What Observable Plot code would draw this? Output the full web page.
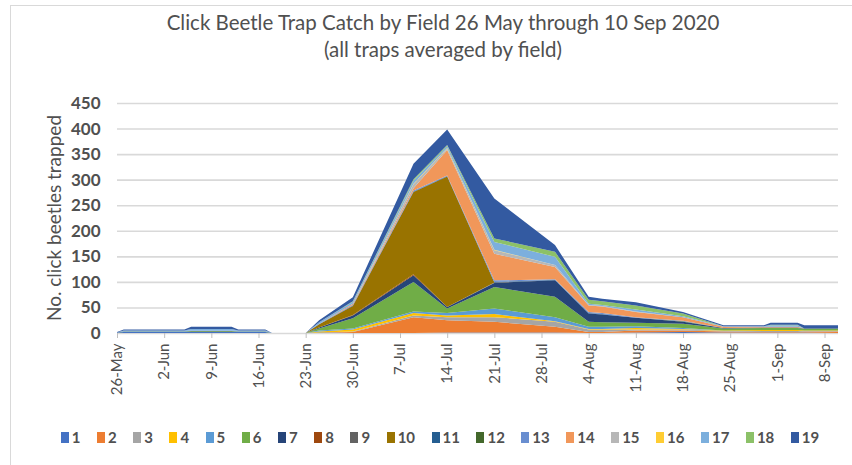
<!DOCTYPE html>
<html>
<head>
<meta charset="utf-8">
<script src="https://cdn.jsdelivr.net/npm/d3@7"></script>
<script src="https://cdn.jsdelivr.net/npm/@observablehq/plot@0.6"></script>
<style>
  html, body { margin: 0; padding: 0; background: #fff; }
  #wrap { position: relative; width: 852px; height: 465px; overflow: hidden; font-family: Lato, "Open Sans", sans-serif; color: #505050; }
  #frame { position: absolute; left: 10px; top: 5px; width: 860px; height: 470px; border-left: 1px solid #d9d9d9; border-top: 1px solid #d9d9d9; }
  #title { position: absolute; left: 0; width: 886px; top: 10px; text-align: center; font-size: 20.5px; line-height: 24px; }
  #subtitle { position: absolute; left: 0; width: 886px; top: 37px; text-align: center; font-size: 20.5px; line-height: 24px; }
  #ylabel { position: absolute; left: 53px; top: 218px; transform: translate(-50%, -50%) rotate(-90deg); white-space: nowrap; font-size: 19px; }
  #chart { position: absolute; left: 0; top: 70px; }
  #legend { position: absolute; left: 0; width: 880px; top: 428px; display: flex; justify-content: center; gap: 16.5px; font-size: 15px; font-weight: bold; }
  .item { display: flex; align-items: center; gap: 3px; }
  .sw { width: 8px; height: 11px; display: inline-block; }
</style>
</head>
<body>
<div id="wrap">
  <div id="frame"></div>
  <div id="title">Click Beetle Trap Catch by Field 26 May through 10 Sep 2020</div>
  <div id="subtitle">(all traps averaged by field)</div>
  <div id="ylabel">No. click beetles trapped</div>
  <div id="chart"></div>
  <div id="legend"></div>
</div>
<script>
const dates = ["2020-05-26","2020-05-27","2020-06-05","2020-06-06","2020-06-12","2020-06-13","2020-06-17","2020-06-18","2020-06-23","2020-06-25","2020-06-30","2020-07-09","2020-07-14","2020-07-21","2020-07-30","2020-08-04","2020-08-06","2020-08-11","2020-08-18","2020-08-24","2020-08-30","2020-08-31","2020-09-04","2020-09-05","2020-09-10"];

const field1  = [1,2,2,2,2,2,2,0,0,1,0,0,1,1,1,0,0,1,2,1,1,1,1,1,0];
const field2  = [0,0,0,0,0,0,0,0,0,0,2,31,24,21,11,2,2,4,3,2,1,1,1,2,3];
const field3  = [0,0,0,0,0,0,0,0,0,0,1,3,6,9,10,5,5,2,2,1,2,2,2,1,1];
const field4  = [0,0,0,0,0,0,0,0,0,2,4,5,3,6,1,1,1,3,1,1,2,2,2,1,1];
const field5  = [0,0,0,0,0,0,0,0,0,2,2,3,5,11,8,4,4,3,2,0,0,0,0,0,0];
const field6  = [0,1,1,1,1,1,1,0,0,4,20,58,9,42,40,10,9,7,8,4,4,4,4,3,3];
const field7  = [0,0,0,0,0,0,0,0,0,2,5,13,3,8,32,16,15,10,4,1,1,1,1,0,0];
const field8  = [0,0,0,0,0,0,0,0,0,0,1,2,0,0,0,0,0,0,0,0,0,0,0,0,0];
const field9  = [0,0,0,0,0,0,0,0,0,0,0,0,0,1,0,0,0,0,0,0,0,0,0,0,0];
const field10 = [0,0,0,0,0,0,0,0,0,6,18,161,255,0,0,0,0,0,0,0,0,0,0,0,0];
const field11 = [0,0,0,0,0,0,0,0,0,0,1,1,1,1,1,1,1,0,0,0,0,0,0,0,0];
const field12 = [0,0,0,1,1,0,0,0,0,0,0,0,0,0,0,0,0,0,1,0,0,0,0,1,1];
const field13 = [0,1,1,1,1,1,1,0,0,1,1,2,1,3,1,2,2,1,1,0,0,0,0,0,0];
const field14 = [0,0,0,0,0,0,0,0,0,0,2,4,50,52,24,13,13,10,7,2,1,1,1,0,0];
const field15 = [0,0,0,0,0,0,0,0,0,0,0,8,3,7,4,1,1,1,0,0,0,0,0,0,0];
const field16 = [0,0,0,0,0,0,0,0,0,0,0,1,1,1,0,0,0,0,0,0,0,0,0,0,0];
const field17 = [0,1,1,3,3,1,1,0,0,3,4,6,4,15,16,2,2,4,2,1,1,3,3,0,0];
const field18 = [0,0,0,0,0,0,0,0,0,0,1,3,2,7,10,8,7,8,5,0,0,1,1,0,0];
const field19 = [1,2,2,4,4,2,2,0,0,4,8,30,30,78,13,6,5,6,3,2,2,4,4,6,6];

const fieldNames = ["1","2","3","4","5","6","7","8","9","10","11","12","13","14","15","16","17","18","19"];
const fieldColors = ["#4472C4","#ED7D31","#A5A5A5","#FFC000","#5B9BD5","#70AD47","#264478","#9E480E","#636363","#997300","#255E91","#43682B","#698ED0","#F1975A","#B7B7B7","#FFCD33","#7CAFDD","#8CC168","#335AA1"];

const tickDates = ["2020-05-26","2020-06-02","2020-06-09","2020-06-16","2020-06-23","2020-06-30","2020-07-07","2020-07-14","2020-07-21","2020-07-28","2020-08-04","2020-08-11","2020-08-18","2020-08-25","2020-09-01","2020-09-08"];
const yTicks = [0,50,100,150,200,250,300,350,400,450];

const allFields = [field1,field2,field3,field4,field5,field6,field7,field8,field9,field10,field11,field12,field13,field14,field15,field16,field17,field18,field19];
const rows = [];
allFields.forEach((vals, i) => {
  vals.forEach((v, j) => rows.push({date: new Date(dates[j] + "T00:00:00Z"), value: v, field: fieldNames[i]}));
});

const fmt = d3.utcFormat("%-d-%b");

const chart = Plot.plot({
  width: 852,
  height: 350,
  marginLeft: 117,
  marginRight: 14,
  marginTop: 33,
  marginBottom: 87,
  style: {fontFamily: "Lato, 'Open Sans', sans-serif", fontSize: "14px", color: "#505050", background: "transparent", overflow: "visible"},
  x: {type: "utc", domain: [new Date("2020-05-26T00:00:00Z"), new Date("2020-09-10T00:00:00Z")]},
  y: {domain: [0, 450]},
  color: {domain: fieldNames, range: fieldColors},
  marks: [
    Plot.ruleY(yTicks, {stroke: "#d9d9d9", strokeWidth: 1.6}),
    Plot.areaY(rows, Plot.stackY({x: "date", y: "value", z: "field", fill: "field", order: fieldNames, curve: "linear"})),
    Plot.axisY({ticks: yTicks, tickSize: 0, tickPadding: 17, label: null, fontSize: 17, fontWeight: "bold", fill: "#505050"}),
    Plot.axisX({ticks: tickDates.map(d => new Date(d + "T00:00:00Z")), tickFormat: fmt, tickRotate: -90, tickSize: 5, tickPadding: 5, label: null, stroke: "#bfbfbf", fill: "#505050", fontSize: 15})
  ]
});
document.getElementById("chart").appendChild(chart);

const legend = document.getElementById("legend");
fieldNames.forEach((n, i) => {
  const it = document.createElement("div");
  it.className = "item";
  it.innerHTML = `<span class="sw" style="background:${fieldColors[i]}"></span><span>${n}</span>`;
  legend.appendChild(it);
});
</script>
</body>
</html>
